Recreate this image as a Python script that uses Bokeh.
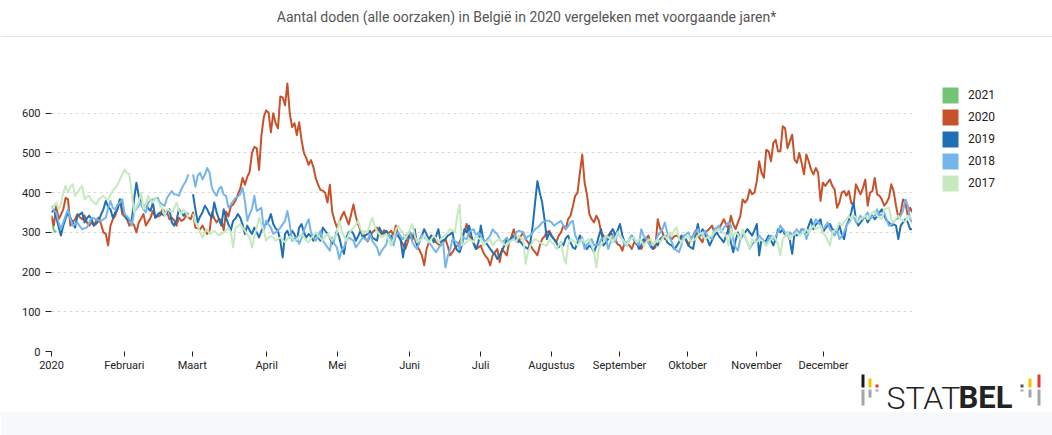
import numpy as np
from bokeh.plotting import figure
from bokeh.layouts import column, row
from bokeh.models import (ColumnDataSource, Range1d, FixedTicker, Label,
                          BoxAnnotation, Legend, LegendItem)
from bokeh.embed import file_html
from bokeh.resources import INLINE

nan = float("nan")

title_text = "Aantal doden (alle oorzaken) in België in 2020 vergeleken met voorgaande jaren*"

# x axis: day index of the 2020 calendar (0 = 1 januari, 365 = 31 december)
month_tick_days = [0, 30.9, 59.7, 91.2, 121.2, 151.8, 181.9, 212.0, 240.8, 269.6, 298.9, 327.3]
month_labels = ["2020", "Februari", "Maart", "April", "Mei", "Juni", "Juli",
                "Augustus", "September", "Oktober", "November", "December"]
y_ticks = [0, 100, 200, 300, 400, 500, 600]

years = ["2021", "2020", "2019", "2018", "2017"]
year_colors = ["#74c476", "#c6522c", "#1f6fb4", "#74b6ec", "#c7e9c0"]

deaths_2021 = [335, 305, 300]

deaths_2020 = [
    342, 317, 367, 333, 345, 358, 387, 383, 317, 325,
    333, 346, 338, 333, 342, 325, 317, 325, 317, 330,
    337, 321, 300, 296, 267, 317, 333, 342, 360, 383,
    346, 340, 333, 317, 325, 318, 300, 325, 335, 346,
    317, 327, 337, 354, 337, 340, 342, 358, 352, 350,
    333, 337, 330, 317, 337, 329, 332, 342, 338, 333,
    350, 312, 310, 308, 317, 305, 296, 304, 350, 335,
    325, 333, 332, 305, 352, 340, 365, 370, 380, 395,
    410, 437, 420, 440, 452, 500, 515, 512, 457, 545,
    590, 607, 602, 552, 600, 575, 562, 642, 640, 620,
    675, 600, 565, 575, 545, 577, 532, 500, 487, 470,
    482, 465, 437, 420, 407, 405, 400, 375, 420, 352,
    330, 312, 327, 340, 352, 335, 320, 345, 370, 340,
    320, 305, 300, 285, 277, 290, 300, 305, 312, 300,
    295, 305, 302, 298, 304, 292, 317, 292, 280, 270,
    258, 275, 300, 290, 283, 267, 255, 242, 217, 258,
    275, 292, 287, 275, 270, 267, 275, 283, 265, 242,
    250, 260, 267, 275, 290, 300, 321, 292, 285, 275,
    258, 262, 267, 250, 240, 233, 217, 242, 250, 258,
    225, 258, 250, 242, 275, 290, 308, 283, 275, 290,
    300, 283, 275, 267, 258, 250, 242, 267, 283, 290,
    300, 304, 292, 283, 275, 292, 300, 317, 308, 333,
    342, 365, 392, 400, 450, 496, 425, 395, 346, 333,
    325, 342, 330, 300, 292, 283, 292, 300, 292, 283,
    270, 267, 254, 275, 270, 267, 258, 275, 270, 267,
    258, 270, 283, 292, 275, 258, 262, 333, 310, 300,
    283, 292, 288, 283, 290, 292, 287, 283, 287, 280,
    267, 285, 292, 304, 292, 283, 275, 300, 304, 310,
    317, 300, 305, 308, 321, 333, 320, 308, 342, 320,
    308, 325, 340, 383, 375, 383, 408, 396, 400, 429,
    479, 450, 437, 508, 504, 479, 525, 533, 504, 504,
    567, 562, 512, 529, 546, 483, 475, 500, 475, 446,
    496, 479, 458, 446, 462, 450, 379, 425, 417, 425,
    433, 417, 408, 362, 375, 400, 404, 392, 404, 375,
    367, 421, 408, 396, 412, 433, 367, 400, 404, 437,
    396, 392, 383, 367, 375, 387, 421, 404, 367, 337,
    350, 383, 375, 342, 362, 350,
]

deaths_2019 = [
    350, 358, 337, 315, 292, 317, 335, 350, 337, 325,
    312, 342, 345, 350, 325, 335, 342, 333, 317, 322,
    329, 345, 358, 379, 365, 358, 337, 350, 358, 383,
    358, 345, 333, 330, 329, 383, 425, 392, 375, 358,
    371, 360, 354, 375, 337, 345, 350, 345, 342, 350,
    358, 325, 317, 330, 358, 350, 342, 350, 345, nan,
    396, 358, 325, 340, 350, 367, 358, 345, 337, 375,
    350, 333, 317, 358, 337, 320, 304, 329, 335, 346,
    337, 320, 296, 317, 305, 296, 312, 300, 287, 304,
    315, 321, 329, 346, 321, 310, 304, 279, 237, 296,
    304, 287, 304, 295, 279, 312, 321, 300, 287, 296,
    290, 279, 296, 288, 279, 312, 304, 296, 287, 271,
    285, 304, 287, 262, 246, 287, 300, 304, 296, 279,
    290, 304, 287, 292, 296, 304, 287, 283, 279, 312,
    300, 296, 304, 287, 292, 275, 300, 290, 283, 237,
    275, 292, 288, 283, 308, 267, 280, 292, 308, 295,
    283, 292, 275, 290, 308, 275, 280, 283, 292, 295,
    300, 267, 255, 250, 267, 308, 300, 317, 292, 270,
    258, 275, 317, 283, 275, 267, 258, 250, 245, 233,
    242, 255, 267, 283, 275, 285, 292, 283, 280, 275,
    267, 262, 258, 275, 317, 375, 429, 400, 375, 333,
    283, 300, 290, 283, 275, 262, 275, 267, 285, 292,
    275, 262, 258, 275, 292, 280, 267, 258, 267, 262,
    250, 267, 290, 308, 267, 275, 283, 300, 308, 292,
    305, 321, 292, 275, 267, 283, 292, 280, 275, 258,
    267, 283, 280, 275, 265, 258, 275, 267, 283, 288,
    292, 275, 270, 267, 258, 265, 275, 292, 287, 283,
    267, 262, 258, 292, 321, 292, 308, 295, 283, 267,
    280, 292, 300, 290, 283, 275, 292, 308, 275, 250,
    280, 300, 283, 292, 300, 308, 300, 292, 305, 321,
    242, 283, 275, 280, 292, 280, 267, 283, 308, 300,
    308, 292, 300, 280, 246, 300, 292, 296, 308, 305,
    300, 317, 333, 308, 320, 325, 333, 300, 310, 317,
    321, 308, 305, 300, 317, 295, 283, 317, 330, 350,
    375, 333, 317, 325, 333, 342, 325, 335, 342, 333,
    340, 350, 358, 342, 330, 325, 317, 320, 317, 283,
    317, 325, 333, 325, 308, 308,
]

deaths_2018 = [
    367, 355, 350, 325, 308, 325, 342, 358, 335, 317,
    320, 325, 315, 308, 310, 312, 325, 337, 335, 333,
    330, 329, 333, 337, 360, 379, 362, 358, 370, 375,
    383, 346, 340, 333, 317, 350, 360, 367, 375, 358,
    350, 375, 380, 383, 385, 387, 375, 370, 367, 387,
    396, 404, 396, 395, 392, 408, 420, 429, 446, nan,
    446, 415, 442, 450, 433, 445, 462, 450, 412, 400,
    392, 410, 415, 395, 392, 362, 370, 379, 387, 390,
    396, 412, 379, 329, 346, 360, 392, 354, 358, 362,
    304, 329, 320, 312, 296, 300, 304, 312, 320, 329,
    354, 321, 279, 285, 287, 271, 285, 304, 320, 333,
    300, 287, 279, 290, 304, 279, 271, 262, 254, 287,
    270, 262, 233, 255, 262, 279, 287, 283, 279, 262,
    270, 279, 287, 283, 279, 296, 279, 270, 262, 242,
    254, 262, 271, 296, 283, 267, 292, 300, 290, 283,
    292, 295, 300, 275, 265, 258, 275, 292, 287, 283,
    275, 267, 258, 250, 260, 267, 275, 212, 240, 258,
    283, 278, 275, 258, 292, 285, 283, 300, 305, 308,
    292, 300, 290, 283, 275, 285, 292, 308, 300, 295,
    283, 275, 280, 287, 275, 280, 283, 300, 304, 302,
    300, 283, 290, 292, 300, 308, 312, 317, 325, 327,
    329, 329, 325, 317, 321, 325, 329, 317, 308, 315,
    325, 329, 292, 280, 275, 287, 258, 270, 275, 283,
    267, 270, 267, 283, 285, 287, 258, 275, 292, 275,
    300, 290, 283, 267, 275, 280, 292, 283, 275, 267,
    308, 292, 285, 275, 267, 270, 275, 292, 300, 308,
    325, 300, 290, 275, 258, 255, 250, 267, 292, 295,
    300, 283, 290, 300, 308, 300, 292, 304, 292, 288,
    283, 308, 312, 317, 300, 312, 318, 325, 317, 283,
    262, 254, 283, 300, 290, 275, 258, 270, 275, 283,
    292, 285, 279, 267, 285, 292, 283, 290, 300, 317,
    308, 300, 292, 300, 292, 300, 308, 296, 305, 308,
    283, 300, 310, 317, 333, 325, 317, 308, 315, 325,
    308, 300, 292, 308, 283, 290, 300, 317, 325, 333,
    342, 325, 333, 342, 333, 342, 350, 333, 340, 342,
    358, 342, 345, 350, 333, 317, 320, 325, 333, 335,
    342, 354, 383, 367, 333, 325,
]

deaths_2017 = [
    358, 365, 375, 358, 370, 400, 417, 400, 415, 421,
    392, 400, 410, 417, 383, 390, 392, 380, 375, 370,
    383, 387, 392, 385, 383, 395, 405, 412, 420, 433,
    445, 458, 450, 446, 400, 350, 365, 375, 400, 358,
    370, 392, 380, 375, 387, 380, 367, 360, 342, 358,
    355, 350, 360, 375, 355, 346, 358, 350, 337, nan,
    346, 325, 315, 300, 287, 300, 308, 296, 300, 304,
    298, 292, 296, 300, 304, 312, 300, 262, 312, 315,
    321, 312, 304, 295, 287, 262, 290, 312, 337, 320,
    304, 279, 287, 290, 287, 279, 283, 287, 280, 275,
    283, 290, 285, 278, 282, 290, 295, 288, 280, 275,
    285, 290, 300, 292, 285, 280, 290, 296, 288, 280,
    285, 300, 329, 304, 290, 279, 295, 305, 312, 320,
    329, 310, 296, 304, 300, 320, 337, 315, 304, 295,
    287, 292, 296, 280, 267, 283, 308, 317, 305, 300,
    283, 295, 308, 321, 292, 275, 280, 283, 292, 285,
    275, 283, 292, 285, 275, 283, 288, 292, 300, 308,
    305, 300, 342, 371, 267, 270, 275, 283, 280, 275,
    292, 285, 283, 267, 275, 278, 283, 267, 275, 280,
    283, 275, 270, 267, 275, 280, 283, 275, 292, 285,
    283, 221, 250, 267, 275, 283, 280, 275, 271, 268,
    267, 283, 275, 270, 258, 267, 275, 242, 221, 267,
    283, 280, 275, 267, 275, 283, 275, 280, 283, 267,
    250, 212, 258, 270, 275, 292, 288, 283, 275, 285,
    300, 292, 283, 275, 267, 283, 285, 287, 275, 283,
    280, 267, 275, 280, 283, 267, 275, 283, 275, 285,
    292, 283, 300, 292, 305, 313, 283, 275, 283, 288,
    292, 275, 280, 283, 292, 296, 300, 283, 287, 290,
    292, 300, 305, 308, 304, 298, 292, 267, 308, 292,
    300, 295, 283, 308, 290, 275, 258, 283, 278, 275,
    283, 280, 275, 267, 275, 283, 292, 283, 270, 242,
    283, 292, 300, 283, 292, 295, 300, 292, 296, 300,
    308, 300, 310, 317, 308, 312, 317, 300, 292, 280,
    267, 300, 305, 308, 325, 317, 325, 333, 342, 333,
    342, 338, 325, 333, 338, 342, 333, 345, 350, 354,
    342, 338, 333, 358, 360, 362, 333, 325, 335, 342,
    333, 330, 325, 342, 338, 333,
]

series = [deaths_2021, deaths_2020, deaths_2019, deaths_2018, deaths_2017]
for s in series[1:]:
    assert len(s) == 366, len(s)


def blank(w, h, xr, yr):
    f = figure(width=w, height=h, output_backend="svg", toolbar_location=None,
               x_range=Range1d(*xr), y_range=Range1d(*yr),
               x_axis_location=None, y_axis_location=None,
               min_border=0, min_border_left=0, min_border_right=0,
               min_border_top=0, min_border_bottom=0,
               outline_line_color=None, background_fill_color="white",
               border_fill_color="white")
    f.grid.visible = False
    return f


# ---------- header (title + separator) ----------
head = blank(1052, 38, (0, 1052), (0, 38))
head.add_layout(Label(x=526, y=22, text=title_text, text_align="center",
                      text_baseline="middle", text_font="Roboto",
                      text_font_size="14px", text_color="#555555"))
head.add_layout(BoxAnnotation(left=0, right=1052, bottom=1.5, top=2.5,
                              fill_color="#e4e4e4", fill_alpha=1, line_color=None))

# ---------- main chart ----------
p = figure(width=912, height=336, output_backend="svg", toolbar_location=None,
           x_range=Range1d(0, 365), y_range=Range1d(0, 700),
           min_border_left=51, min_border_right=0, min_border_top=35,
           min_border_bottom=21, outline_line_color=None,
           background_fill_color="white", border_fill_color="white")

for yr, vals, col in zip(years, series, year_colors):
    src = ColumnDataSource(dict(day=np.arange(len(vals)), deaths=np.array(vals, dtype=float)))
    p.line("day", "deaths", source=src, line_color=col, line_width=2, line_join="round")

p.xaxis.ticker = FixedTicker(ticks=month_tick_days)
p.xaxis.major_label_overrides = {t: lab for t, lab in zip(month_tick_days, month_labels)}
p.yaxis.ticker = FixedTicker(ticks=y_ticks)
for ax in (p.xaxis[0], p.yaxis[0]):
    ax.axis_line_color = None
    ax.minor_tick_line_color = None
    ax.major_tick_in = 0
    ax.major_tick_line_color = "#222222"
    ax.major_label_text_font = "Roboto"
    ax.major_label_text_font_size = "11px"
    ax.major_label_text_color = "#222222"
p.xaxis.major_tick_out = 5
p.xaxis.major_label_standoff = 2
p.yaxis.major_tick_out = 6
p.yaxis.major_label_standoff = 5

p.xgrid.visible = False
p.ygrid.grid_line_color = "#dcdcdc"
p.ygrid.grid_line_dash = "3 3"
p.ygrid.grid_line_width = 1

# ---------- legend column (its frame is aligned with the chart frame) ----------
side = blank(140, 336, (0, 1), (0, 1))
items = []
for yr, col in zip(years, year_colors):
    proxy = ColumnDataSource(dict(l=[nan], r=[nan], t=[nan], b=[nan]))
    rq = side.quad(left="l", right="r", top="t", bottom="b", source=proxy,
                   fill_color=col, line_color=None)
    items.append(LegendItem(label=yr, renderers=[rq]))
legend = Legend(items=items, location=(28, 158), orientation="vertical",
                glyph_width=20, glyph_height=20, label_height=20, spacing=2,
                padding=0, margin=0, label_standoff=8,
                border_line_color=None, background_fill_alpha=0,
                label_text_font="Roboto", label_text_font_size="12px",
                label_text_color="#222222")
side.add_layout(legend)

# ---------- footer with STATBEL logo ----------
foot = blank(1052, 61, (0, 1052), (0, 61))
foot.add_layout(BoxAnnotation(left=0, right=1052, bottom=0, top=23,
                              fill_color="#f6f8fa", fill_alpha=1, line_color=None))


def fbox(x0, x1, y0, y1, col):
    foot.add_layout(BoxAnnotation(left=x0, right=x1, bottom=y0, top=y1,
                                  fill_color=col, fill_alpha=1, line_color=None))


gray = "#a6a6a6"
fbox(861, 864, 48, 65, "#1a1a1a")
fbox(861, 864, 30, 46, gray)
fbox(868, 871, 48, 57, "#f5c400")
fbox(868, 871, 38, 46, gray)
fbox(875, 878, 48, 51, "#e8382f")
fbox(875, 878, 44, 46, gray)
fbox(1020, 1023, 48, 51, "#555555")
fbox(1020, 1023, 44, 46, gray)
fbox(1028, 1031, 48, 57, "#f5c400")
fbox(1028, 1031, 38, 46, gray)
fbox(1037, 1040, 48, 65, "#e8382f")
fbox(1037, 1040, 30, 46, gray)

foot.add_layout(Label(x=886, y=38, text="STAT", text_font="Roboto Light",
                      text_font_size="32px", text_color="#222222",
                      text_baseline="alphabetic"))
foot.add_layout(Label(x=958, y=38, text="BEL", text_font="Roboto",
                      text_font_style="bold", text_font_size="31px",
                      text_color="#222222", text_baseline="alphabetic"))

layout = column(head, row(p, side), foot)

open("out.html", "w").write(file_html(layout, INLINE))
